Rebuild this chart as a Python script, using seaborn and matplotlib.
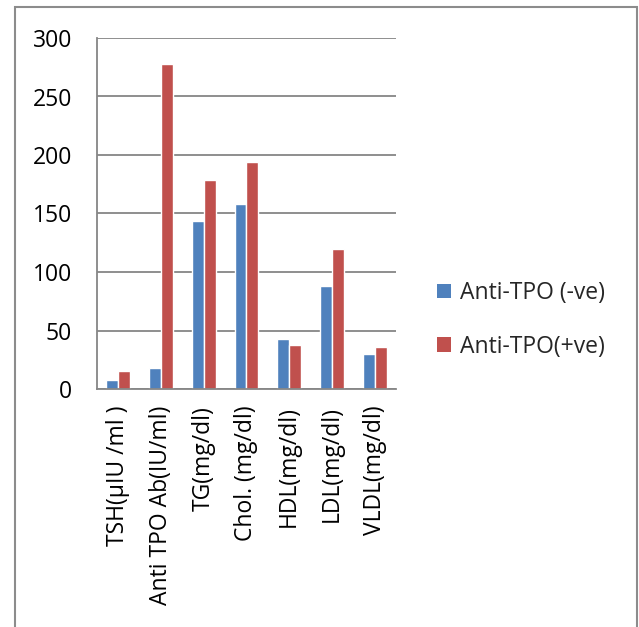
import matplotlib
matplotlib.use("Agg")
import matplotlib.pyplot as plt
from matplotlib.patches import Rectangle, Patch
import seaborn as sns
import pandas as pd

# Thyroid and lipid profile means by anti-TPO status
categories = ["TSH(µIU /ml )", "Anti TPO Ab(IU/ml)", "TG(mg/dl)", "Chol. (mg/dl)",
              "HDL(mg/dl)", "LDL(mg/dl)", "VLDL(mg/dl)"]
anti_tpo_neg = [8, 18, 144, 158, 43, 88, 30]
anti_tpo_pos = [15, 278, 179, 194, 38, 120, 36]
series = ["Anti-TPO (-ve)", "Anti-TPO(+ve)"]
y_ticks = [0, 50, 100, 150, 200, 250, 300]

BLUE = "#4F81BD"
RED = "#C0504D"
GRAY = "#868686"
FS = 16.5

sns.set_theme(style="white")
plt.rcParams["font.family"] = ["Open Sans", "DejaVu Sans"]

df = pd.DataFrame({
    "param": categories * 2,
    "value": anti_tpo_neg + anti_tpo_pos,
    "group": [series[0]] * len(categories) + [series[1]] * len(categories),
})

W, H = 639, 627
fig = plt.figure(figsize=(W / 100, H / 100), dpi=100)
ax = fig.add_axes([97 / W, 1 - 389 / H, (396 - 97) / W, (389 - 38) / H])

sns.barplot(data=df, x="param", y="value", hue="group", hue_order=series,
            palette=[BLUE, RED], width=0.56, gap=0, saturation=1,
            errorbar=None, legend=False, ax=ax)

ax.set_xlim(-0.5, len(categories) - 0.5)
ax.set_ylim(0, 300)
ax.set_yticks(y_ticks)
ax.set_xlabel("")
ax.set_ylabel("")
ax.set_axisbelow(True)
ax.yaxis.grid(True, color=GRAY, linewidth=1.3)
ax.xaxis.grid(False)

for side in ("top", "right"):
    ax.spines[side].set_visible(False)
for side in ("left", "bottom"):
    ax.spines[side].set_color(GRAY)
    ax.spines[side].set_linewidth(1.3)

ax.tick_params(axis="y", direction="out", length=5, width=1.3, color=GRAY,
               pad=13, labelsize=FS, labelcolor="black")
ax.tick_params(axis="x", which="major", length=0, pad=12, labelsize=FS,
               labelcolor="black", labelrotation=90)
ax.set_xticks([i - 0.5 for i in range(len(categories) + 1)], minor=True)
ax.tick_params(axis="x", which="minor", direction="out", length=6, width=1.3,
               color=GRAY)
for lbl in ax.get_xticklabels():
    lbl.set_verticalalignment("top")

handles = [Patch(facecolor=BLUE, edgecolor="none"), Patch(facecolor=RED, edgecolor="none")]
fig.legend(handles=handles, labels=series, loc="center left",
           bbox_to_anchor=(437 / W, 1 - 320 / H), frameon=False, fontsize=FS,
           handlelength=0.62, handleheight=0.62, handletextpad=0.4,
           labelspacing=1.3, borderpad=0, borderaxespad=0)

# chart area frame
fig.add_artist(Rectangle((15 / W, -0.05), (637 - 15) / W, 1.05 - 7 / H,
                         transform=fig.transFigure, fill=False,
                         edgecolor="#8c8c8c", linewidth=1.5))

fig.savefig("out.png", dpi=100)
